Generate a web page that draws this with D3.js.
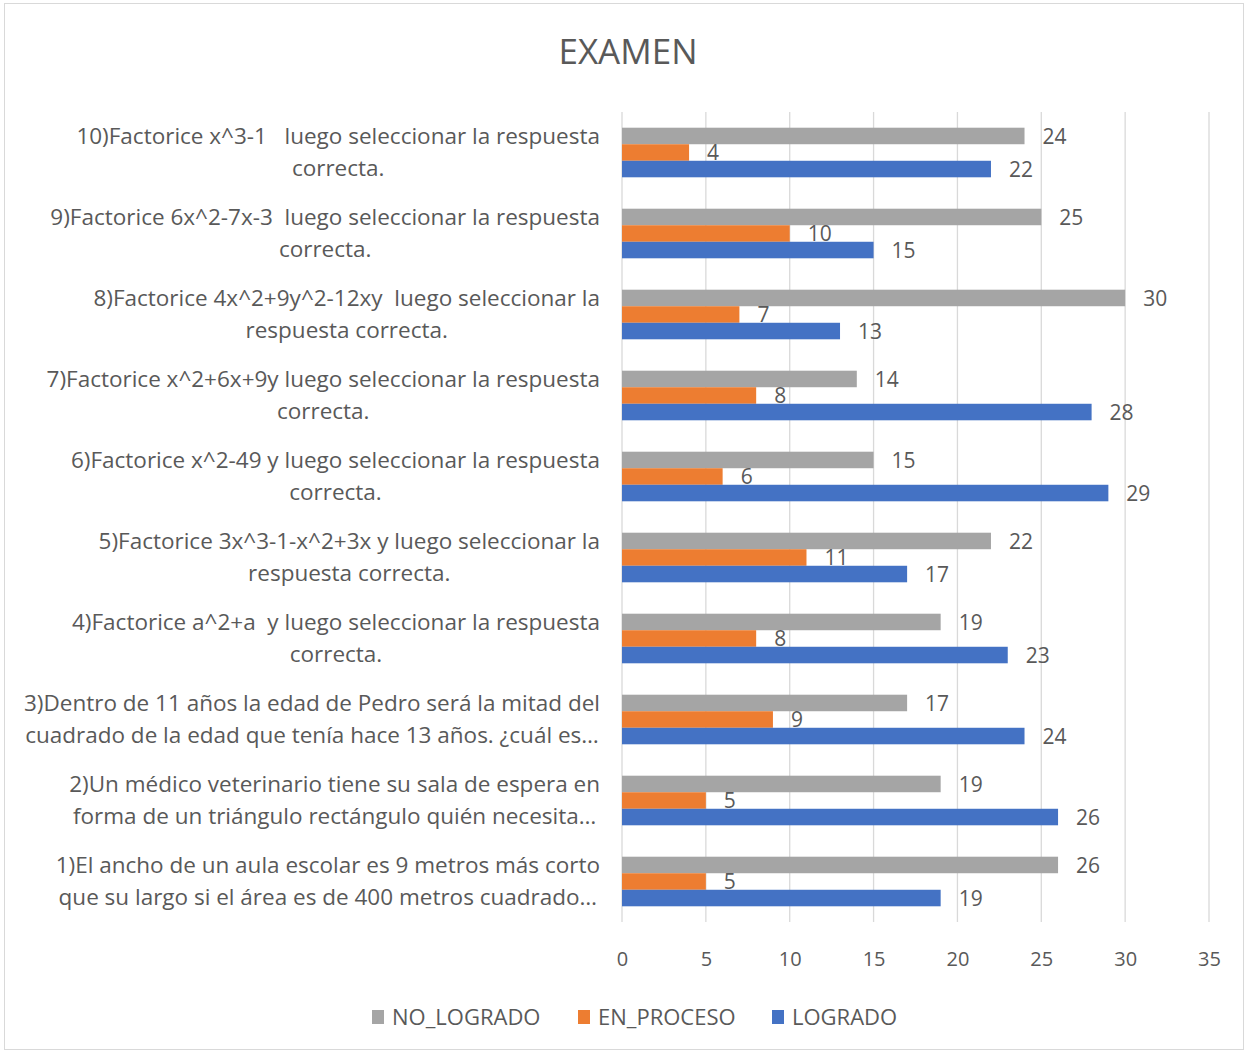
<!DOCTYPE html>
<html>
<head>
<meta charset="utf-8">
<script src="https://cdn.jsdelivr.net/npm/d3@7"></script>
<style>
  body { margin: 0; background: #fff; }
  text { font-family: "Open Sans", "Liberation Sans", sans-serif; fill: #595959; white-space: pre; }
</style>
</head>
<body>
<div id="chart-area"></div>
<script>
// categories, top to bottom as drawn
var categories = [
  ["10)Factorice x^3-1   luego seleccionar la respuesta", "correcta."],
  ["9)Factorice 6x^2-7x-3  luego seleccionar la respuesta", "correcta."],
  ["8)Factorice 4x^2+9y^2-12xy  luego seleccionar la", "respuesta correcta."],
  ["7)Factorice x^2+6x+9y luego seleccionar la respuesta", "correcta."],
  ["6)Factorice x^2-49 y luego seleccionar la respuesta", "correcta."],
  ["5)Factorice 3x^3-1-x^2+3x y luego seleccionar la", "respuesta correcta."],
  ["4)Factorice a^2+a  y luego seleccionar la respuesta", "correcta."],
  ["3)Dentro de 11 años la edad de Pedro será la mitad del", "cuadrado de la edad que tenía hace 13 años. ¿cuál es…"],
  ["2)Un médico veterinario tiene su sala de espera en", "forma de un triángulo rectángulo quién necesita…"],
  ["1)El ancho de un aula escolar es 9 metros más corto", "que su largo si el área es de 400 metros cuadrado…"]
]
var noLogrado = [24, 25, 30, 14, 15, 22, 19, 17, 19, 26]
var enProceso = [4, 10, 7, 8, 6, 11, 8, 9, 5, 5]
var logrado   = [22, 15, 13, 28, 29, 17, 23, 24, 26, 19]
var seriesNames = ["NO_LOGRADO", "EN_PROCESO", "LOGRADO"]
var xTicks = [0, 5, 10, 15, 20, 25, 30, 35]

var colors = ["#A5A5A5", "#ED7D31", "#4472C4"]
var seriesValues = [noLogrado, enProceso, logrado]

var W = 1249, H = 1053
var plot = { left: 622, right: 1209, top: 112, bottom: 922 }

var svg = d3.select("#chart-area").append("svg")
    .attr("width", W)
    .attr("height", H)

// chart border
svg.append("rect")
  .attr("x", 4.5).attr("y", 3.5)
  .attr("width", 1239).attr("height", 1046)
  .attr("fill", "#fff")
  .attr("stroke", "#D9D9D9")

svg.append("text")
  .attr("x", 628)
  .attr("y", 64)
  .attr("text-anchor", "middle")
  .attr("font-size", "35px")
  .text("EXAMEN")

var x = d3.scaleLinear()
  .domain([0, 35])
  .range([plot.left, plot.right])

var y = d3.scaleBand()
  .domain(d3.range(categories.length))
  .range([plot.top, plot.bottom])

var inner = d3.scaleBand()
  .domain(d3.range(3))
  .range([0, y.bandwidth()])
  .paddingOuter(0.95)
  .paddingInner(0)

// gridlines
svg.append("g")
  .selectAll("line")
  .data(xTicks)
  .enter().append("line")
    .attr("x1", function(d) { return x(d) })
    .attr("x2", function(d) { return x(d) })
    .attr("y1", plot.top)
    .attr("y2", plot.bottom)
    .attr("stroke", "#D9D9D9")
    .attr("stroke-width", 1.3)

// x axis labels
var xAxisCall = d3.axisBottom(x)
  .tickValues(xTicks)
  .tickSize(0)
  .tickPadding(0)

var xAxisGroup = svg.append("g")
  .attr("transform", "translate(0," + (plot.bottom + 44) + ")")
  .call(xAxisCall)
xAxisGroup.select(".domain").remove()
xAxisGroup.selectAll("text")
  .attr("font-size", "20px")
  .attr("font-family", null)
  .attr("fill", "#595959")
  .attr("dy", "0")

// bars
var rows = []
categories.forEach(function(c, i) {
  seriesValues.forEach(function(vals, s) {
    rows.push({ cat: i, s: s, value: vals[i] })
  })
})

svg.append("g")
  .selectAll("rect")
  .data(rows)
  .enter().append("rect")
    .attr("x", x(0))
    .attr("y", function(d) { return y(d.cat) + inner(d.s) })
    .attr("width", function(d) { return x(d.value) - x(0) })
    .attr("height", inner.bandwidth())
    .attr("fill", function(d) { return colors[d.s] })

// value labels
svg.append("g")
  .selectAll("text")
  .data(rows)
  .enter().append("text")
    .attr("x", function(d) { return x(d.value) + 18 })
    .attr("y", function(d) { return y(d.cat) + inner(d.s) + inner.bandwidth() / 2 })
    .attr("dy", "0.36em")
    .attr("font-size", "21px")
    .attr("fill", "#404040")
    .text(function(d) { return d.value })

// category labels: block right aligned, lines centred inside
var labelRight = 600
categories.forEach(function(lines, i) {
  var g = svg.append("g")
  var cy = y(i) + y.bandwidth() / 2
  var texts = g.selectAll("text")
    .data(lines)
    .enter().append("text")
      .attr("y", function(d, k) { return cy + (k === 0 ? -16 : 16) })
      .attr("dy", "0.35em")
      .attr("font-size", "22.5px")
      .attr("text-anchor", "middle")
      .text(function(d) { return d })
  var maxW = 0
  texts.each(function() { maxW = Math.max(maxW, this.getComputedTextLength()) })
  texts.attr("x", labelRight - maxW / 2)
})

// legend
var legendX = [372, 578, 772]
var legend = svg.append("g")
  .selectAll("g")
  .data(seriesNames)
  .enter().append("g")
    .attr("transform", function(d, i) { return "translate(" + legendX[i] + ",1017)" })
legend.append("rect")
  .attr("x", 0).attr("y", -7)
  .attr("width", 12).attr("height", 14)
  .attr("fill", function(d, i) { return colors[i] })
legend.append("text")
  .attr("x", 20)
  .attr("dy", "0.36em")
  .attr("font-size", "22px")
  .text(function(d) { return d })
</script>
</body>
</html>
